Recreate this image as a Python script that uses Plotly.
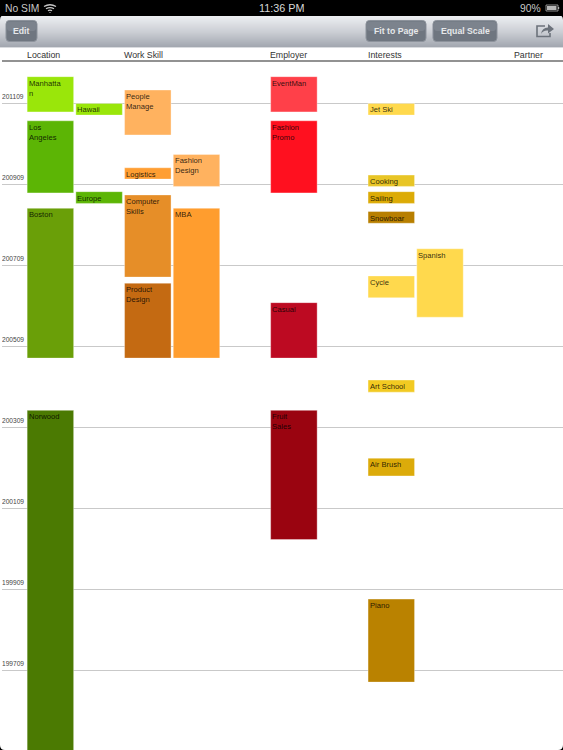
import plotly.graph_objects as go

# Timeline values are decimal years
columns = ["Location", "Work Skill", "Employer", "Interests", "Partner"]
column_slots = [0, 2, 5, 7, 10]
tick_years = [2011.667, 2009.667, 2007.667, 2005.667, 2003.667, 2001.667, 1999.667, 1997.667]
tick_labels = ["201109", "200909", "200709", "200509", "200309", "200109", "199909", "199709"]

location_names = ["Manhatta<br>n", "Hawaii", "Los<br>Angeles", "Europe", "Boston", "Norwood"]
location_slots = [0, 1, 0, 1, 0, 0]
location_start = [2011.46, 2011.38, 2009.46, 2009.20, 2005.38, 1995.00]
location_end = [2012.33, 2011.67, 2011.24, 2009.49, 2009.08, 2004.09]
location_colors = ["#9ae60a", "#9ae60a", "#5cb505", "#5cb505", "#6a9f08", "#4b7a02"]

skill_names = ["People<br>Manage", "Logistics", "Fashion<br>Design", "Computer<br>Skills", "Product<br>Design", "MBA"]
skill_slots = [2, 2, 3, 2, 2, 3]
skill_start = [2010.89, 2009.80, 2009.62, 2007.38, 2005.38, 2005.38]
skill_end = [2012.00, 2010.08, 2010.41, 2009.41, 2007.23, 2009.08]
skill_colors = ["#ffb25f", "#ff9e32", "#ffb25f", "#e68e28", "#c46a12", "#ff9d2e"]

employer_names = ["EventMan", "Fashion<br>Promo", "Casual", "Fruit<br>Sales"]
employer_slots = [5, 5, 5, 5]
employer_start = [2011.46, 2009.46, 2005.38, 2000.90]
employer_end = [2012.33, 2011.24, 2006.75, 2004.09]
employer_colors = ["#ff4049", "#ff101f", "#bd0a22", "#9a0410"]

interest_names = ["Jet Ski", "Cooking", "Sailing", "Snowboar", "Cycle", "Spanish", "Art School", "Air Brush", "Piano"]
interest_slots = [7, 7, 7, 7, 7, 8, 7, 7, 7]
interest_start = [2011.38, 2009.62, 2009.20, 2008.71, 2006.87, 2006.39, 2004.54, 2002.47, 1997.38]
interest_end = [2011.67, 2009.90, 2009.49, 2009.00, 2007.41, 2008.08, 2004.84, 2002.91, 1999.43]
interest_colors = ["#ffd94d", "#e8c526", "#dcab06", "#b87f00", "#ffd94d", "#ffd94d", "#f2ca22", "#dcab0a", "#ba8200"]

W, H = 563, 750
bar_width = 0.955


def px(x, y):
    # page pixels to paper coordinates
    return f"{x / W:.5f} {1 - y / H:.5f}"


def rect(x0, y0, x1, y1, color):
    return dict(type="rect", xref="paper", yref="paper", x0=x0 / W, x1=x1 / W, y0=1 - y0 / H, y1=1 - y1 / H,
                fillcolor=color, line_width=0, layer="above")


def path(d, fill="rgba(0,0,0,0)", line=None, width=0):
    return dict(type="path", xref="paper", yref="paper", path=d, fillcolor=fill, layer="above",
                line=dict(color=line or "rgba(0,0,0,0)", width=width))


def rounded(x0, y0, x1, y1, r):
    return (f"M {px(x0 + r, y0)} L {px(x1 - r, y0)} Q {px(x1, y0)} {px(x1, y0 + r)} "
            f"L {px(x1, y1 - r)} Q {px(x1, y1)} {px(x1 - r, y1)} L {px(x0 + r, y1)} "
            f"Q {px(x0, y1)} {px(x0, y1 - r)} L {px(x0, y0 + r)} Q {px(x0, y0)} {px(x0 + r, y0)} Z")


def mix(a, b, t):
    return "rgb(" + ",".join(str(round(a[i] + (b[i] - a[i]) * t)) for i in range(3)) + ")"


fig = go.Figure()
series = [
    (location_names, location_slots, location_start, location_end, location_colors),
    (skill_names, skill_slots, skill_start, skill_end, skill_colors),
    (employer_names, employer_slots, employer_start, employer_end, employer_colors),
    (interest_names, interest_slots, interest_start, interest_end, interest_colors),
]
annotations = []
for names, slots, start, end, colors in series:
    fig.add_trace(go.Bar(
        x=slots, y=[e - s for s, e in zip(start, end)], base=start, width=bar_width,
        marker=dict(color=colors, line=dict(color="rgba(255,255,255,0.35)", width=1)),
        hoverinfo="skip", showlegend=False,
    ))
    for name, slot, top in zip(names, slots, end):
        annotations.append(dict(
            x=slot - bar_width / 2, y=top, text=name, showarrow=False, xanchor="left", yanchor="top",
            align="left", xshift=0.5, yshift=-1, borderpad=0,
            font=dict(family="Liberation Sans", size=7.6, color="rgba(0,0,0,0.82)"),
        ))

# column headers
for name, slot in zip(columns, column_slots):
    annotations.append(dict(
        x=slot - bar_width / 2, y=1 - 55 / H, yref="paper", text=name, showarrow=False,
        xanchor="left", yanchor="middle", xshift=-1.5, borderpad=0,
        font=dict(family="Liberation Sans", size=8.8, color="#333333"),
    ))

# status bar and toolbar text
bar_font = dict(family="Liberation Sans", size=10.3, color="#c8c8c8")
for text, x, anchor, font in [
    ("No SIM", 3.5, "left", bar_font),
    ("11:36 PM", 281, "center", dict(family="Liberation Sans", size=10.8, color="#d8d8d8")),
    ("90%", 542, "right", bar_font),
]:
    annotations.append(dict(x=x / W, y=1 - 8 / H, xref="paper", yref="paper", text=text, showarrow=False,
                            xanchor=anchor, yanchor="middle", borderpad=0, font=font))

buttons = [("Edit", 6, 37), ("Fit to Page", 366, 426), ("Equal Scale", 433, 497)]
for text, x0, x1 in buttons:
    annotations.append(dict(x=(x0 + x1) / 2 / W, y=1 - 31 / H, xref="paper", yref="paper", text=text, showarrow=False,
                            xanchor="center", yanchor="middle", borderpad=0,
                            font=dict(family="Liberation Sans", size=8.7, color="#e6e8ea", weight="bold")))

shapes = [rect(0, 0, W, 16, "#000000")]
# toolbar gradient, one row per pixel
light, middle, dark = (236, 238, 241), (203, 206, 212), (160, 165, 174)
for row in range(16, 48):
    t = (row - 16) / 31
    color = mix(light, middle, t * 2) if t < 0.5 else mix(middle, dark, (t - 0.5) * 2)
    shapes.append(rect(0, row, W, row + 1, color))
shapes.append(rect(0, 47, W, 48, "#d9dbdf"))
# rounded toolbar corners
shapes.append(path(f"M {px(0, 15)} L {px(5, 15)} Q {px(0, 15)} {px(0, 20)} Z", "#000000"))
shapes.append(path(f"M {px(W, 15)} L {px(W - 5, 15)} Q {px(W, 15)} {px(W, 20)} Z", "#000000"))

# buttons
for text, x0, x1 in buttons:
    shapes.append(path(rounded(x0, 20.5, x1, 41.5, 3.5), "#6f7680", "#8d939c", 1))
    shapes.append(path(rounded(x0 + 1, 21.5, x1 - 1, 31, 2.5), "#7c838d"))

# share icon
shapes.append(path(f"M {px(545, 26)} L {px(537, 26)} L {px(537, 36.5)} L {px(550, 36.5)} L {px(550, 33)}",
                   line="#6c727b", width=1.6))
shapes.append(path(f"M {px(541, 34)} Q {px(542, 28)} {px(548, 27.5)} L {px(548, 24)} L {px(554, 29)} "
                   f"L {px(548, 33.5)} L {px(548, 30.5)} Q {px(543, 30)} {px(541, 34)} Z", "#6c727b"))

# wifi icon
for y0, half, rise in [(6.5, 6, 3.5), (8.8, 4, 2.5), (10.8, 2, 1.4)]:
    shapes.append(path(f"M {px(50 - half, y0)} Q {px(50, y0 - rise)} {px(50 + half, y0)}", line="#c8c8c8", width=1.3))
shapes.append(path(f"M {px(49, 12)} L {px(51, 12)} L {px(50, 13)} Z", "#c8c8c8"))

# battery
shapes.append(dict(type="rect", xref="paper", yref="paper", x0=546 / W, x1=558 / W, y0=1 - 5 / H, y1=1 - 11 / H,
                   fillcolor="rgba(0,0,0,0)", line=dict(color="#b0b0b0", width=0.8), layer="above"))
shapes.append(rect(547, 6, 556.5, 10, "#b8b8b8"))
shapes.append(rect(558, 7, 559.2, 9, "#b0b0b0"))

# header rule
shapes.append(rect(2, 60.3, W, 61.7, "#6e6e6e"))

# grid lines start 2px in from the page edge
shapes.append(rect(0, 62, 2, 740, "#ffffff"))

# screen corners at the bottom
shapes.append(path(f"M {px(0, 745)} Q {px(0, H)} {px(5, H)} L {px(0, H)} Z", "#000000"))
shapes.append(path(f"M {px(W, 745)} Q {px(W, H)} {px(W - 5, H)} L {px(W, H)} Z", "#000000"))

x_center = 50.4
x_step = 48.7
top_year = 2011.667 + 103.5 / 40.5
bottom_year = 2011.667 - (H - 103.5) / 40.5

fig.update_layout(
    width=W, height=H, autosize=False,
    margin=dict(l=0, r=0, t=0, b=0),
    paper_bgcolor="white", plot_bgcolor="white",
    barmode="overlay",
    annotations=annotations, shapes=shapes,
    xaxis=dict(range=[-x_center / x_step, (W - x_center) / x_step], showgrid=False, zeroline=False,
               showticklabels=False, fixedrange=True),
    yaxis=dict(range=[bottom_year, top_year], tickmode="array", tickvals=tick_years, ticktext=tick_labels,
               ticklabelposition="inside top", ticklabelshift=-2, ticklabelstandoff=-1,
               showgrid=True, gridcolor="#c9c9c9", gridwidth=1, zeroline=False,
               showline=False, ticks="", tickfont=dict(family="Liberation Sans", size=6.6, color="#444444"),
               fixedrange=True),
)

# the page body has a default margin, the figure has to sit at the corner
fig.write_html("out.html", config=dict(displayModeBar=False),
               post_script="document.body.style.margin='0';")
